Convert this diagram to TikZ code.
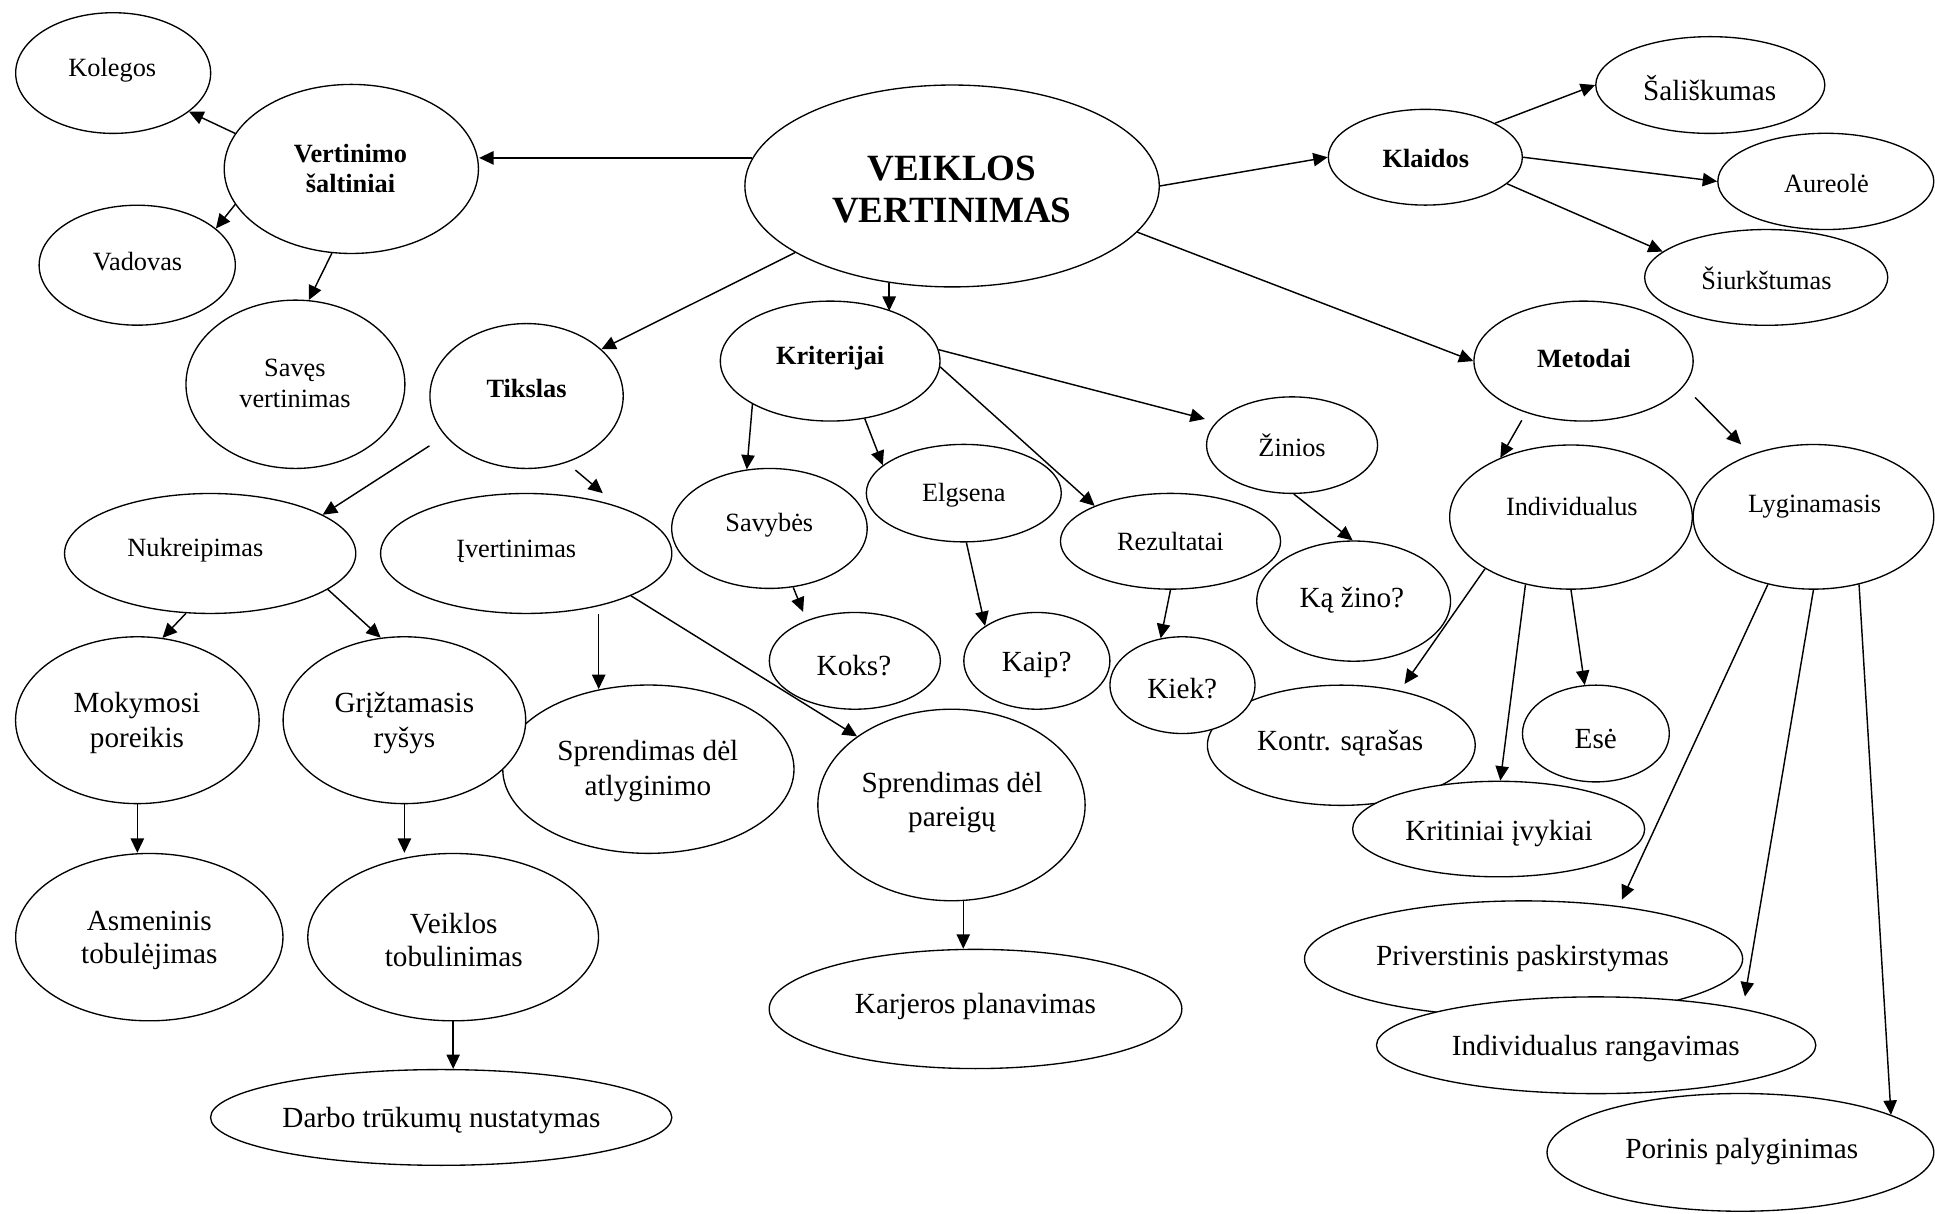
\documentclass[tikz,border=0pt]{standalone}
\usepackage{fontspec}
\setmainfont{Liberation Serif}
\usetikzlibrary{shapes.geometric,arrows.meta}
\begin{document}
\begin{tikzpicture}[x=0.6pt,y=-0.6pt,
  ell/.style={draw, ellipse, fill=white, line width=0.65pt, inner sep=0pt},
  sz/.style n args={2}{minimum width=#1*1.2pt, minimum height=#2*1.2pt},
  sm/.style={inner sep=0pt, align=center, font=\fontsize{12.8}{14.6}\selectfont},
  lg/.style={inner sep=0pt, align=center, font=\fontsize{14.2}{17}\selectfont},
  hd/.style={inner sep=0pt, align=center, font=\bfseries\fontsize{12.8}{14.6}\selectfont},
  ttl/.style={inner sep=0pt, align=center, font=\bfseries\fontsize{18}{20.3}\selectfont},
  arr/.style={-{Triangle[length=7pt,width=6.5pt]}, line width=0.7pt},
]
\path[fill=white, use as bounding box] (0,0) rectangle (1568,983);

% --- left branch: sources of appraisal
\node[ell, sz={79}{48.9}] (kol) at (91.7,59.2) {};
\node[sm] (kolT) at (91,56.8) {Kolegos};
\node[ell, sz={103}{68.5}] (vs) at (284.7,136.9) {};
\node[hd] (vsT) at (284,136.5) {Vertinimo\\šaltiniai};
\node[ell, sz={79.5}{48.6}] (vad) at (111.2,214.9) {};
\node[sm] (vadT) at (111.5,212.2) {Vadovas};
\node[ell, sz={88.7}{68.2}] (sav) at (239.4,311.4) {};
\node[sm, font=\fontsize{12.8}{15}\selectfont] (savT) at (239,310.5) {Savęs\\vertinimas};

% --- centre
\node[ell, sz={78.3}{58.7}] (tik) at (426.7,320.9) {};
\node[hd] (tikT) at (426.7,314.9) {Tikslas};
\node[ell, sz={167.9}{81.8}] (vv) at (771.5,150.7) {};
\node[ttl] (vvT) at (771.3,153.4) {VEIKLOS\\VERTINIMAS};
\node[ell, sz={89}{48.6}] (kri) at (672.7,292.6) {};
\node[hd] (kriT) at (672.7,290.5) {Kriterijai};

% --- errors
\node[ell, sz={78.6}{38.8}] (kla) at (1155,127.4) {};
\node[hd] (klaT) at (1155.4,128.4) {Klaidos};
\node[ell, sz={92.8}{39.2}] (sal) at (1385.9,68.9) {};
\node[lg] (salT) at (1385.4,71.6) {Šališkumas};
\node[ell, sz={87.5}{39}] (aur) at (1479.5,147) {};
\node[sm] (aurT) at (1480,148.6) {Aureolė};
\node[ell, sz={98.5}{38.8}] (siu) at (1431.2,224.8) {};
\node[sm] (siuT) at (1431.4,225.7) {Šiurkštumas};
\node[ell, sz={88.8}{48.6}] (met) at (1283.2,292.6) {};
\node[hd] (metT) at (1283.4,290.5) {Metodai};

% --- purpose
\node[ell, sz={118}{48.6}] (nuk) at (170.3,448.5) {};
\node[sm] (nukT) at (158.3,445.8) {Nukreipimas};
\node[ell, sz={118}{48.6}] (ive) at (426.4,448.5) {};
\node[sm] (iveT) at (418.3,447.1) {Įvertinimas};
\node[ell, sz={98.7}{67.6}] (mok) at (111.3,583.6) {};
\node[lg] (mokT) at (111,585.6) {Mokymosi\\poreikis};
\node[ell, sz={118}{68.2}] (spa) at (525.4,623.3) {};
\node[lg] (spaT) at (525,624.8) {Sprendimas dėl\\atlyginimo};
\node[ell, sz={98.3}{67.6}] (gri) at (327.7,583.6) {};
\node[lg] (griT) at (327.7,585.6) {Grįžtamasis\\ryšys};

% --- criteria
\node[ell, sz={79.2}{48.6}] (svb) at (623.5,428.2) {};
\node[sm] (svbT) at (623.4,425.5) {Savybės};
\node[ell, sz={79}{39.5}] (elg) at (781,399.6) {};
\node[sm] (elgT) at (781,401.2) {Elgsena};
\node[ell, sz={89.2}{38.8}] (rez) at (948.5,438.6) {};
\node[sm] (rezT) at (948.4,439) {Rezultatai};
\node[ell, sz={69.3}{39.2}] (kok) at (692.7,535.5) {};
\node[lg] (kokT) at (692,539) {Koks?};
\node[ell, sz={59.2}{39.2}] (kai) at (840.2,535.5) {};
\node[lg] (kaiT) at (840,539) {Kaip?};
\node[ell, sz={108.5}{48.7}] (kon) at (1086.9,603.9) {};
\node[lg] (konT) at (1086,602.5) {Kontr. sąrašas};
\node[ell, sz={58.8}{39.2}] (kie) at (958.2,555.2) {};
\node[lg] (kieT) at (958,557.9) {Kiek?};
\node[ell, sz={108.3}{77.6}] (spp) at (771,652.3) {};
\node[lg] (sppT) at (771.4,650.3) {Sprendimas dėl\\pareigų};
\node[ell, sz={69.3}{39.1}] (zin) at (1047,360.7) {};
\node[sm] (zinT) at (1047,361) {Žinios};
\node[ell, sz={78.5}{48.7}] (kaz) at (1096.9,487.1) {};
\node[lg] (kazT) at (1095.4,486.3) {Ką žino?};

% --- methods
\node[ell, sz={98.3}{58.4}] (ind) at (1273,419) {};
\node[sm] (indT) at (1273.7,410.6) {Individualus};
\node[ell, sz={97.5}{58.6}] (lyg) at (1469.5,418.8) {};
\node[sm] (lygT) at (1470.4,410.6) {Lyginamasis};
\node[ell, sz={59.5}{39.2}] (ese) at (1293.2,594.4) {};
\node[lg] (eseT) at (1293.1,598.5) {Esė};
\node[ell, sz={118.3}{38.7}] (krt) at (1214.4,671.8) {};
\node[lg] (krtT) at (1214.7,675.3) {Kritiniai įvykiai};
\node[ell, sz={177.5}{47}] (pri) at (1234.6,777) {};
\node[lg] (priT) at (1233.7,776.7) {Priverstinis paskirstymas};
\node[ell, sz={178}{39.2}] (ira) at (1293.4,847) {};
\node[lg] (iraT) at (1293.1,849.6) {Individualus rangavimas};
\node[ell, sz={156.7}{47.7}] (por) at (1410.3,933.8) {};
\node[lg] (porT) at (1411.4,933.4) {Porinis palyginimas};

% --- bottom row
\node[ell, sz={108.3}{67.8}] (asm) at (121,759.4) {};
\node[lg, font=\fontsize{14.2}{16.2}\selectfont] (asmT) at (121,761.8) {Asmeninis\\tobulėjimas};
\node[ell, sz={117.8}{67.8}] (vto) at (367.2,759.4) {};
\node[lg, font=\fontsize{14.2}{16.2}\selectfont] (vtoT) at (367.7,761.8) {Veiklos\\tobulinimas};
\node[ell, sz={186.9}{38.8}] (dar) at (357.5,905.5) {};
\node[lg] (darT) at (357.7,907.8) {Darbo trūkumų nustatymas};
\node[ell, sz={167.2}{48.3}] (kar) at (790.5,817.6) {};
\node[lg] (karT) at (790.4,815.9) {Karjeros planavimas};

% --- connectors
\draw[arr] (vv.172) -- (vv.172 -| vs.east);
\draw[arr] (vs.163) -- (kol.333.4);
\draw[arr] (vs.197.3) -- (vad.25.9);
\draw[arr] (vs.257.3) -- (sav.81.2);
\draw[arr] (vv.203.3) -- (tik.32.7);
\draw[arr] (vv.237.7) -- (vv.237.7 |- kri.39.3);
\draw[arr] (vv.east) -- (kla.west);
\draw[arr] (vv.346.6) -- (met.west);
\draw[arr] (kla.26) -- (sal.west);
\draw[arr] (kla.east) -- (aur.west);
\draw[arr] (kla.342.2) -- (siu.166.3);
\draw[arr, shorten <=4.2pt] (met.222.2) -- (ind.140);
\draw[arr, shorten <=7.7pt, shorten >=6.8pt] (met.346.3) -- (lyg.135);
\draw[arr, shorten <=9pt] (tik.206.9) -- (nuk.19.6);
\draw[arr, shorten <=5.6pt, shorten >=10pt] (tik.301) -- (ive.27.7);
\draw[arr] (nuk.248) -- (mok.73.2);
\draw[arr] (nuk.343.6) -- (gri.106);
\draw[arr, shorten <=4pt] (ive.324.9) -- (ive.324.9 |- spa.121.5);
\draw[arr] (ive.338) -- (spp.144.9);
\draw[arr] (mok.south) -- (mok.south |- asm.north);
\draw[arr] (gri.south) -- (gri.south |- vto.north);
\draw[arr] (vto.south) -- (vto.south |- dar.north);
\draw[arr] (spp.277.4) -- (spp.277.4 |- kar.north);
\draw[arr] (kri.209.4) -- (svb.111.5);
\draw[arr] (kri.301.7) -- (elg.161);
\draw[arr] (kri.357.8) -- (rez.155.4);
\draw[arr, shorten >=5.7pt] (kri.6) -- (zin.163.9);
\draw[arr, shorten >=4.4pt] (svb.292.3) -- (kok.140.3);
\draw[arr] (elg.273.9) -- (kai.146.7);
\draw[arr] (rez.south) -- (kie.115.6);
\draw[arr] (zin.272.6) -- (kaz.91.8);
\draw[arr, shorten >=3.9pt] (ind.211.7) -- (kon.43.4);
\draw[arr] (ind.236.3) -- (krt.88.5);
\draw[arr] (ind.south) -- (ese.103.6);
\draw[arr, shorten >=3.4pt] (lyg.236.4) -- (pri.29);
\draw[arr, shorten >=6pt] (lyg.south) -- (ira.14);
\draw[arr] (lyg.304.2) -- (por.14.4);
\end{tikzpicture}
\end{document}
